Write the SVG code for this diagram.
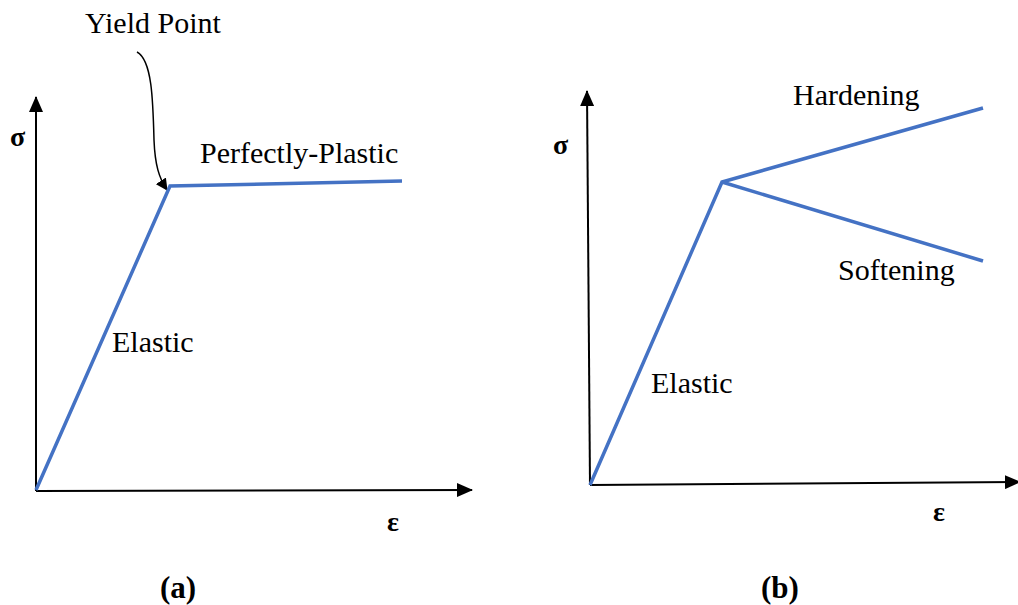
<svg xmlns="http://www.w3.org/2000/svg" width="1018" height="605" viewBox="0 0 1018 605">
<defs>
<marker id="ah" markerWidth="12" markerHeight="12" refX="11" refY="6" orient="auto" markerUnits="userSpaceOnUse"><path d="M0,0 L12,6 L0,12 Z" fill="#000"/></marker>
<marker id="ax" markerWidth="16" markerHeight="14" refX="15" refY="7" orient="auto" markerUnits="userSpaceOnUse"><path d="M0,0 L16,7 L0,14 Z" fill="#000"/></marker>
<style>
.t{font-family:"Liberation Serif","Times New Roman",serif;font-size:30px;fill:#000}
.b{font-family:"Liberation Serif","Times New Roman",serif;font-weight:bold;fill:#000}
.axis{stroke:#000;stroke-width:2;fill:none}
.curve{stroke:#4472C4;stroke-width:3.5;fill:none;stroke-linejoin:miter}
</style>
</defs>
<rect width="1018" height="605" fill="#fff"/>
<g id="connectors">
<line class="axis" x1="36" y1="491" x2="36" y2="97" marker-end="url(#ax)"/>
<line class="axis" x1="36" y1="491" x2="472" y2="490" marker-end="url(#ax)"/>
<line class="axis" x1="590" y1="485" x2="587" y2="91" marker-end="url(#ax)"/>
<line class="axis" x1="590" y1="485" x2="1020" y2="482" marker-end="url(#ax)"/>
<path d="M137,52 C152,60 153,100 154,140 C155,165 159,178 167,190" stroke="#000" stroke-width="1.5" fill="none" marker-end="url(#ah)"/>
</g>
<g id="curveA"><polyline class="curve" points="36,490 170,186 402,181"/></g>
<g id="curveB"><polyline class="curve" points="590,485 722,182 983,108"/><line class="curve" x1="722" y1="182" x2="983" y2="261"/></g>
<g id="labelsA">
<text class="t" x="85" y="33">Yield Point</text>
<text class="t" x="200" y="163">Perfectly-Plastic</text>
<text class="t" x="112" y="352">Elastic</text>
<text class="b" x="10" y="146" font-size="28">σ</text>
<text class="b" x="387" y="531" font-size="28">ε</text>
<text class="b" x="160" y="598" font-size="31">(a)</text>
</g>
<g id="labelsB">
<text class="t" x="793" y="105">Hardening</text>
<text class="t" x="838" y="280">Softening</text>
<text class="t" x="651" y="393">Elastic</text>
<text class="b" x="553" y="154" font-size="28">σ</text>
<text class="b" x="933" y="521" font-size="28">ε</text>
<text class="b" x="761" y="598" font-size="31">(b)</text>
</g>
</svg>
